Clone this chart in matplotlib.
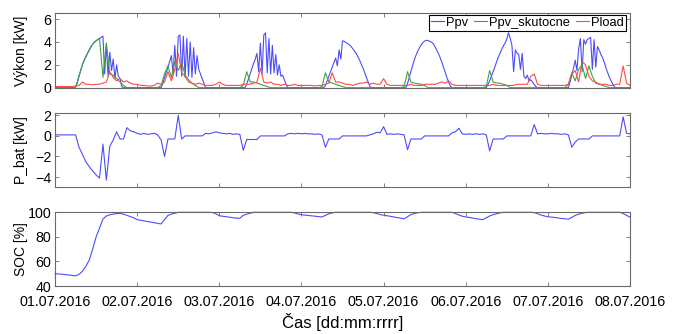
import numpy as np
import matplotlib.pyplot as plt

plt.rcParams['font.family'] = ['Liberation Sans', 'DejaVu Sans']

# values, time in hours from 01.07.2016 00:00
day_labels = ["01.07.2016", "02.07.2016", "03.07.2016", "04.07.2016",
              "05.07.2016", "06.07.2016", "07.07.2016", "08.07.2016"]

# Ppv [kW], every 30 minutes (48 per day)
ppv = [
    # 01.07
    0, 0, 0, 0, 0, 0, 0, 0, 0, 0, 0, 0,
    0.05, 0.4, 1.0, 1.5, 2.0, 2.4, 2.7, 3.0, 3.3, 3.6, 3.8, 4.0,
    4.1, 4.2, 4.3, 4.4, 4.5, 1.2, 3.8, 1.0, 3.1, 1.5, 2.5, 0.8,
    2.0, 1.0, 0.8, 0.1, 0, 0, 0, 0, 0, 0, 0, 0,
    # 02.07
    0, 0, 0, 0, 0, 0, 0, 0, 0, 0, 0, 0,
    0, 0, 0, 0.4, 0.9, 1.35, 1.8, 2.3, 2.8, 1.2, 3.7, 1.0,
    4.5, 4.6, 1.0, 4.5, 0.9, 4.3, 1.0, 4.0, 0.9, 3.5, 1.2, 2.8,
    1.6, 1.2, 0.8, 0.4, 0, 0, 0, 0, 0, 0, 0, 0,
    # 03.07
    0, 0, 0, 0, 0, 0, 0, 0, 0, 0, 0, 0,
    0, 0, 0, 0, 0.3, 0.75, 1.2, 1.65, 2.1, 2.5, 3.0, 1.4,
    3.9, 1.2, 4.6, 4.8, 1.3, 4.3, 1.2, 3.7, 1.3, 2.9, 1.1, 2.0,
    1.0, 1.1, 0.7, 0.3, 0, 0, 0, 0, 0, 0, 0, 0,
    # 04.07
    0, 0, 0, 0, 0, 0, 0, 0, 0, 0, 0, 0,
    0, 0, 0.2, 0.6, 1.0, 1.4, 1.8, 2.2, 2.6, 1.9, 3.3, 2.5,
    4.1, 4.05, 3.95, 3.85, 3.75, 3.6, 3.4, 3.2, 3.0, 2.7, 2.4, 2.05,
    1.7, 1.3, 0.9, 0.5, 0.1, 0, 0, 0, 0, 0, 0, 0,
    # 05.07
    0, 0, 0, 0, 0, 0, 0, 0, 0, 0, 0, 0,
    0, 0, 0.35, 0.9, 1.45, 1.95, 2.45, 2.85, 3.2, 3.5, 3.75, 3.95,
    4.08, 4.14, 4.12, 4.05, 3.98, 3.85, 3.6, 3.3, 3.0, 2.65, 2.25, 1.8,
    1.35, 0.9, 0.5, 0.15, 0, 0, 0, 0, 0, 0, 0, 0,
    # 06.07
    0, 0, 0, 0, 0, 0, 0, 0, 0, 0, 0, 0,
    0, 0.3, 0.6, 1.0, 1.4, 1.8, 2.25, 2.65, 3.0, 3.35, 3.65, 3.9,
    4.25, 4.8, 4.3, 3.7, 1.4, 3.3, 3.0, 2.9, 1.6, 3.0, 1.0, 0.8,
    1.1, 0.6, 0.7, 0.5, 0.3, 0.1, 0, 0, 0, 0, 0, 0,
    # 07.07
    0, 0, 0, 0, 0, 0, 0, 0, 0, 0, 0, 0,
    0, 0.5, 1.1, 1.7, 2.4, 1.5, 3.4, 4.3, 1.4, 4.2, 3.8, 4.2,
    4.3, 4.4, 1.6, 4.2, 1.8, 3.6, 3.3, 2.9, 2.6, 2.2, 1.7, 1.3,
    0.9, 0.6, 0.3, 0.05, 0, 0, 0, 0, 0, 0, 0, 0,
    # 08.07 00:00
    0,
]

# Ppv_skutocne [kW], hourly
ppv_skutocne = [
    0, 0, 0, 0, 0, 0, 0.05, 1.0, 2.0, 2.7, 3.3, 3.8, 4.1, 4.3, 0.9, 3.9, 1.2, 1.1, 0.8, 0.5, 0.2, 0, 0, 0,
    0, 0, 0, 0, 0, 0, 0, 0.2, 1.2, 1.9, 0.9, 2.3, 1.5, 2.2, 1.1, 0.7, 0.4, 0.2, 0, 0, 0, 0, 0, 0,
    0, 0, 0, 0, 0, 0, 0, 0.2, 1.4, 0.5, 0.5, 0.4, 0.3, 0.2, 0.1, 0, 0, 0, 0, 0, 0, 0, 0, 0,
    0, 0, 0, 0, 0, 0, 0.1, 1.3, 0.5, 0.4, 0.3, 0.2, 0.1, 0, 0, 0, 0, 0, 0, 0, 0, 0, 0, 0,
    0, 0, 0, 0, 0, 0, 0.1, 1.4, 0.5, 0.4, 0.35, 0.3, 0.2, 0, 0, 0, 0, 0, 0, 0, 0, 0, 0, 0,
    0, 0, 0, 0, 0, 0, 0.1, 1.5, 0.5, 0.4, 0.4, 0.3, 0.2, 0, 0, 0, 0, 0, 0, 0, 0, 0, 0, 0,
    0, 0, 0, 0, 0, 0, 0.3, 1.3, 0.6, 1.6, 2.0, 0.8, 1.9, 1.0, 0.4, 0.3, 0.2, 0.1, 0, 0, 0, 0, 0, 0,
    0,
]

# Pload [kW], hourly
pload = [
    0.1, 0.1, 0.1, 0.1, 0.1, 0.1, 0.15, 0.2, 0.5, 0.3, 0.3, 0.25, 0.3, 0.3, 0.4, 0.5, 1.4, 0.9, 0.6, 0.8, 0.5, 0.6, 0.4, 0.3,
    0.3, 0.2, 0.2, 0.15, 0.15, 0.2, 0.4, 0.3, 0.5, 1.4, 0.6, 1.6, 3.0, 1.3, 1.0, 0.5, 0.4, 0.3, 0.4, 0.3, 0.2, 0.2, 0.2, 0.3,
    0.5, 0.3, 0.2, 0.2, 0.2, 0.2, 0.2, 0.3, 0.3, 0.3, 0.4, 0.5, 1.7, 0.5, 0.4, 0.5, 0.3, 0.3, 0.2, 0.3, 0.2, 0.2, 0.3, 0.2,
    0.2, 0.2, 0.2, 0.2, 0.15, 0.2, 0.2, 0.3, 0.4, 1.3, 0.5, 0.5, 0.4, 0.3, 0.3, 0.2, 0.3, 0.4, 0.4, 0.5, 0.3, 0.4, 0.3, 0.3,
    0.8, 0.3, 0.2, 0.2, 0.2, 0.2, 0.2, 0.2, 0.3, 0.2, 0.2, 0.2, 0.3, 0.3, 0.3, 0.3, 0.4, 0.5, 0.4, 0.6, 0.3, 0.2, 0.2, 0.2,
    0.2, 0.2, 0.2, 0.2, 0.2, 0.2, 0.2, 0.2, 0.3, 0.2, 0.2, 0.2, 0.2, 0.2, 0.2, 0.3, 0.3, 0.3, 0.3, 1.0, 1.2, 0.3, 0.2, 0.2,
    0.2, 0.2, 0.2, 0.2, 0.2, 0.2, 0.3, 1.2, 1.5, 0.5, 2.3, 2.0, 1.0, 0.6, 0.5, 0.3, 0.3, 0.3, 0.2, 0.2, 0.3, 0.3, 1.9, 0.4,
    0.2,
]

# P_bat [kW], hourly
p_bat = [
    0.1, 0.1, 0.1, 0.1, 0.1, 0.1, 0.1, -1.1, -1.8, -2.5, -3.0, -3.4, -3.8, -4.1, -0.8, -4.3, -1.0, -0.4, 0.4, -0.3, -0.3, 0.8, 0.5, 0.4,
    0.25, 0.15, 0.25, 0.15, 0.2, 0.25, 0.1, -0.4, -2.0, -0.3, -0.3, -0.3, 2.0, -0.3, 0, 0, 0, 0, 0, 0, 0.25, 0.2, 0.3, 0.4,
    0.3, 0.25, 0.2, 0.25, 0.15, 0.2, 0.15, -1.4, -0.35, -0.35, -0.35, -0.35, 0, 0, 0, 0, 0, 0, 0, 0, 0.2, 0.25, 0.2, 0.25,
    0.2, 0.25, 0.2, 0.2, 0.15, 0.2, 0.1, -1.1, -0.3, -0.3, -0.3, -0.3, 0, 0, 0, 0, 0, 0, 0, 0, 0.1, 0.2, 0.35, 0.3,
    0.9, 0.15, 0.2, 0.15, 0.2, 0.15, 0.1, -1.35, -0.3, -0.3, -0.3, -0.3, 0, 0, 0, 0, 0, 0, 0, 0, 0.3, 0.4, 0.75, 0.2,
    0.15, 0.2, 0.15, 0.2, 0.15, 0.2, 0.1, -1.45, -0.3, -0.3, -0.3, -0.3, 0, 0, 0, 0, 0, 0, 0, 0, 1.1, 0.2, 0.25, 0.2,
    0.2, 0.25, 0.2, 0.2, 0.15, 0.2, 0.1, -1.1, -0.6, -0.3, -0.3, -0.3, -0.3, 0, 0, 0, 0, 0, 0, 0, 0, 0, 1.85, 0.25,
    0.2,
]

# SOC [%], hourly
soc = [
    50, 49.8, 49.6, 49.3, 49.0, 48.6, 48.2, 49.5, 52, 56, 61, 70, 80, 87, 94.5, 97, 98, 98.5, 99, 99, 98.5, 97.5, 96.5, 95.5,
    94, 93.5, 93, 92.5, 92, 91.5, 91, 90.5, 94, 97.5, 98.5, 99.2, 100, 100, 100, 100, 100, 100, 100, 100, 100, 100, 99.8, 98.8,
    97.2, 96.8, 96.4, 96.0, 95.6, 95.2, 95.2, 97.5, 98.4, 99.2, 100, 100, 100, 100, 100, 100, 100, 100, 100, 100, 100, 100, 99.5, 98.6,
    98.0, 97.7, 97.4, 97.1, 96.8, 96.5, 96.2, 97.5, 98.7, 99.5, 100, 100, 100, 100, 100, 100, 100, 100, 100, 100, 100, 99.7, 99.0, 98.2,
    97.6, 97.2, 96.7, 96.2, 95.7, 95.2, 94.7, 96.5, 98.2, 99, 99.6, 100, 100, 100, 100, 100, 100, 100, 100, 100, 100, 99.0, 97.8, 96.8,
    96.2, 95.8, 95.3, 94.8, 94.4, 94.0, 95.5, 97, 98, 98.8, 99.5, 100, 100, 100, 100, 100, 100, 100, 100, 100, 99.8, 98.8, 97.8, 97.0,
    96.4, 96.1, 95.8, 95.4, 95.0, 94.7, 94.4, 95.8, 97.5, 98.5, 99.2, 99.8, 100, 100, 100, 100, 100, 100, 100, 100, 100, 100, 99, 97.5,
    96,
]

t_half = np.arange(len(ppv)) * 0.5
t_hour = np.arange(len(pload))

blue = '#4c4cff'
green = '#3fa33f'
red = '#ff4a4a'
frame = '#6a6a6a'

fig = plt.figure(figsize=(6.81, 3.34), dpi=100)
left, width = 0.0808, 0.8443
ax1 = fig.add_axes([left, 0.7374, width, 0.2228])
ax2 = fig.add_axes([left, 0.4392, width, 0.2216])
ax3 = fig.add_axes([left, 0.1437, width, 0.2207])

ax1.plot(t_half, ppv, color=blue, lw=0.8, label='Ppv')
ax1.plot(t_hour, ppv_skutocne, color=green, lw=0.8, label='Ppv_skutocne')
ax1.plot(t_hour, pload, color=red, lw=0.8, label='Pload')
ax1.set_ylim(0, 6.5)
ax1.set_yticks([0, 2, 4, 6])
ax1.set_ylabel('Výkon [kW]', fontsize=10)
leg = ax1.legend(loc='upper right', bbox_to_anchor=(0.993, 0.977), borderaxespad=0,
                 ncol=3, fontsize=9.3, handlelength=1.0, handletextpad=0.15,
                 columnspacing=0.5, borderpad=0.15, fancybox=False, framealpha=1)
leg.get_frame().set_edgecolor('black')
leg.get_frame().set_linewidth(0.8)

ax2.plot(t_hour, p_bat, color=blue, lw=0.8)
ax2.set_ylim(-5, 2.2)
ax2.set_yticks([-4, -2, 0, 2])
ax2.set_ylabel('P_bat [kW]', fontsize=10)

ax3.plot(t_hour, soc, color=blue, lw=0.8, clip_on=False)
ax3.set_ylim(40, 100)
ax3.set_yticks([40, 60, 80, 100])
ax3.set_ylabel('SOC [%]', fontsize=10)
ax3.set_xlabel('Čas [dd:mm:rrrr]', fontsize=12, labelpad=3)

for ax in (ax1, ax2, ax3):
    ax.set_xlim(0, 168)
    ax.set_xticks(np.arange(0, 169, 24))
    ax.tick_params(direction='in', top=True, right=True, length=3, width=0.6,
                   color=frame, labelcolor='black', labelsize=10.3, pad=2.5)
    ax.tick_params(axis='x', pad=6.5)
    for s in ax.spines.values():
        s.set_color(frame)
        s.set_linewidth(0.8)
    ax.yaxis.set_label_coords(-0.047, 0.5)
ax1.set_xticklabels([])
ax2.set_xticklabels([])
ax3.set_xticklabels(day_labels)

fig.savefig('out.png', dpi=100)
